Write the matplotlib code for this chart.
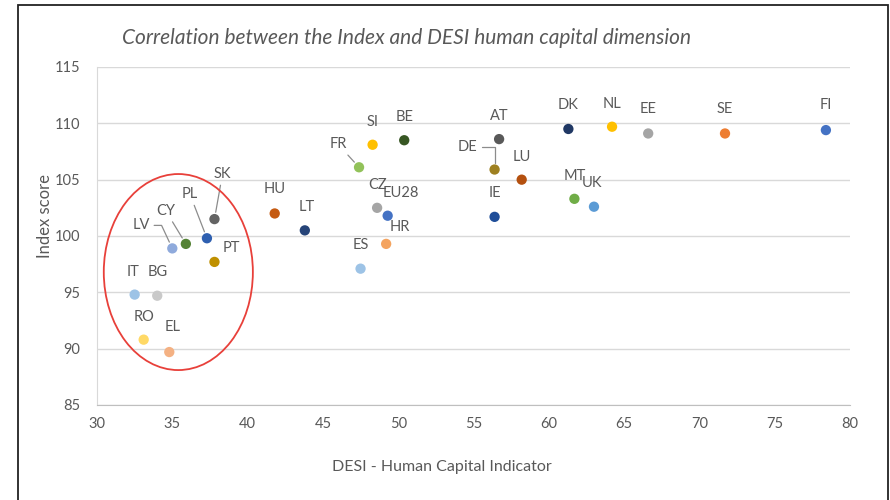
import matplotlib.pyplot as plt
from matplotlib.patches import Ellipse, Rectangle

plt.rcParams['font.family'] = ['Lato', 'DejaVu Sans']

######## chart data #########
countries = ["IT", "BG", "RO", "EL", "LV", "CY", "PL", "SK", "PT", "HU",
             "LT", "ES", "FR", "SI", "BE", "CZ", "EU28", "HR", "AT", "DE",
             "LU", "IE", "DK", "NL", "MT", "UK", "EE", "SE", "FI"]
desi_hc = [32.5, 34.0, 33.1, 34.8, 35.0, 35.9, 37.3, 37.8, 37.8, 41.8,
           43.8, 47.5, 47.4, 48.3, 50.4, 48.6, 49.3, 49.2, 56.7, 56.4,
           58.2, 56.4, 61.3, 64.2, 61.7, 63.0, 66.6, 71.7, 78.4]
index_score = [94.8, 94.7, 90.8, 89.7, 98.9, 99.3, 99.8, 101.5, 97.7, 102.0,
               100.5, 97.1, 106.1, 108.1, 108.5, 102.5, 101.8, 99.3, 108.6, 105.9,
               105.0, 101.7, 109.5, 109.7, 103.3, 102.6, 109.1, 109.1, 109.4]
xticks = [30, 35, 40, 45, 50, 55, 60, 65, 70, 75, 80]
yticks = [85, 90, 95, 100, 105, 110, 115]
#############################

colors = {"IT": "#9dc3e6", "BG": "#c9c9c9", "RO": "#ffd966", "EL": "#f4b183",
          "LV": "#8faadc", "CY": "#548235", "PL": "#2e5fb0", "SK": "#636363",
          "PT": "#bf9000", "HU": "#c55a11", "LT": "#264478", "ES": "#9dc3e6",
          "FR": "#92c25a", "SI": "#ffc000", "BE": "#375623", "CZ": "#a5a5a5",
          "EU28": "#4472c4", "HR": "#f4a460", "AT": "#595959", "DE": "#9e8020",
          "LU": "#b4500f", "IE": "#1f4e99", "DK": "#203864", "NL": "#ffc000",
          "MT": "#70ad47", "UK": "#5b9bd5", "EE": "#a5a5a5", "SE": "#ed7d31",
          "FI": "#4472c4"}

# label offsets in pixels (dx, dy)
offsets = {"IT": (-2, 23), "BG": (0, 24), "RO": (0, 23), "EL": (3, 25),
           "LV": (-31, 23), "CY": (-20, 33), "PL": (-17, 44), "SK": (8, 45),
           "PT": (17, 14), "HU": (0, 24), "LT": (2, 23), "ES": (0, 24),
           "FR": (-21, 23), "SI": (0, 23), "BE": (0, 23), "CZ": (0, 23),
           "EU28": (13, 23), "HR": (14, 17), "AT": (0, 23), "DE": (-27, 23),
           "LU": (0, 23), "IE": (0, 24), "DK": (0, 24), "NL": (0, 23),
           "MT": (0, 23), "UK": (-2, 24), "EE": (0, 24), "SE": (0, 24),
           "FI": (0, 25)}
# leader lines (connection style, None = straight)
leaders = {"LV": "angle,angleA=0,angleB=115,rad=0",
           "CY": None, "PL": None, "SK": None, "FR": None,
           "DE": "angle,angleA=0,angleB=90,rad=0"}

fig = plt.figure(figsize=(8.9, 5), dpi=100)
ax = fig.add_axes([97 / 890, 95 / 500, 753 / 890, 338 / 500])

# outer frame of the figure
fig.patches.append(Rectangle((18 / 890, -0.05), 870 / 890, 1.04,
                             transform=fig.transFigure, fill=False,
                             edgecolor="#222222", linewidth=1.3))

ax.scatter(desi_hc, index_score, s=55, c=[colors[c] for c in countries],
           zorder=3, linewidths=0)

for name, x, y in zip(countries, desi_hc, index_score):
    dx, dy = offsets[name]
    arrow = None
    if name in leaders:
        arrow = dict(arrowstyle="-", color="#8c8c8c", lw=0.9,
                     shrinkA=1, shrinkB=5)
        if leaders[name]:
            arrow["connectionstyle"] = leaders[name]
    ax.annotate(name, (x, y), xytext=(dx, dy), textcoords="offset pixels",
                ha="center", va="center", fontsize=10.5, color="#595959",
                arrowprops=arrow, zorder=4)

ax.add_patch(Ellipse((35.4, 96.8), 9.9, 17.4, fill=False,
                     edgecolor="#e8403a", linewidth=1.3, zorder=5))

ax.set_xlim(30, 80)
ax.set_ylim(85, 115)
ax.set_xticks(xticks)
ax.set_yticks(yticks)
ax.grid(axis="y", color="#d9d9d9", linewidth=1)
ax.set_axisbelow(True)
for side in ["top", "right"]:
    ax.spines[side].set_visible(False)
ax.spines["left"].set_color("#d9d9d9")
ax.spines["bottom"].set_color("#bfbfbf")
ax.tick_params(length=0, labelsize=10.5, labelcolor="#595959", pad=9)
ax.tick_params(axis="y", pad=12)

ax.set_xlabel("DESI - Human Capital Indicator", fontsize=11.5, color="#595959")
ax.xaxis.set_label_coords(0.458, -0.163)
ax.set_ylabel("Index score", fontsize=12, color="#595959")
ax.yaxis.set_label_coords(-0.058, 0.56)

fig.text(407 / 890, 1 - 38 / 500, "Correlation between the Index and DESI human capital dimension",
         ha="center", va="center", fontsize=15, style="italic", color="#595959")

plt.savefig("out.png", dpi=100)
